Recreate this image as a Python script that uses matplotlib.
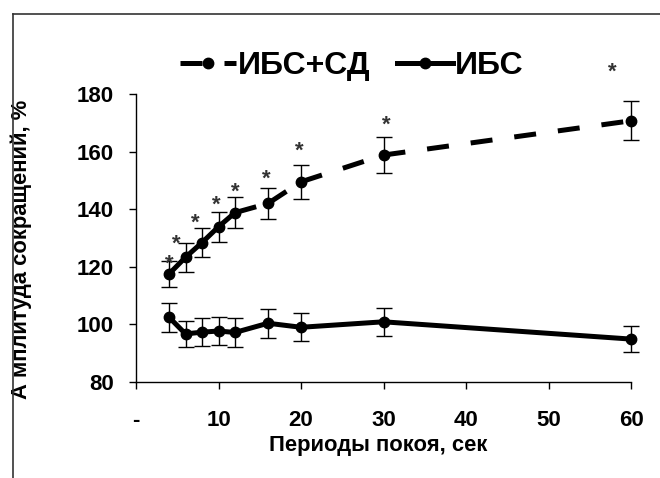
import numpy as np
import matplotlib
matplotlib.use('Agg')
import matplotlib.pyplot as plt
from matplotlib.lines import Line2D

plt.rcParams['font.family'] = ['Liberation Sans', 'DejaVu Sans']
plt.rcParams['font.weight'] = 'bold'

# периоды покоя, сек
x = [4, 6, 8, 10, 12, 16, 20, 30, 60]

# ИБС+СД (пунктир)
ibs_sd = [117.5, 123.3, 128.4, 133.9, 138.8, 142.0, 149.5, 158.8, 170.7]
ibs_sd_err = [4.5, 5.0, 4.9, 5.2, 5.4, 5.5, 5.8, 6.3, 6.7]

# ИБС (сплошная)
ibs = [102.5, 96.7, 97.3, 97.7, 97.2, 100.4, 99.0, 100.9, 94.9]
ibs_err = [5.0, 4.5, 4.9, 4.8, 5.0, 5.0, 4.8, 4.9, 4.6]

# звездочки (достоверность)
star_x = [4, 4.9, 7.2, 9.7, 12, 15.8, 19.8, 30.3, 57.7]
star_y = [123.5, 130.2, 137.4, 143.8, 148.4, 153.0, 162.5, 171.6, 190.0]

xticks = [0, 10, 20, 30, 40, 50, 60]
xticklabels = ['-', '10', '20', '30', '40', '50', '60']
yticks = [80, 100, 120, 140, 160, 180]

fig = plt.figure(figsize=(6.6, 4.78), dpi=100)
ax = fig.add_axes([136/660, 1-382/478, 495/660, 288/478])

lw = 3.6
dash = (4.4, 4.4)

# пунктир в Excel начинается заново на каждом отрезке
for i in range(len(x)-1):
    ax.plot(x[i:i+2], ibs_sd[i:i+2], color='black', lw=lw, dashes=dash,
            dash_capstyle='butt', solid_capstyle='round', clip_on=False)
ax.plot(x, ibs_sd, 'o', color='black', ms=7.5, clip_on=False)
ax.errorbar(x, ibs_sd, yerr=ibs_sd_err, fmt='none', ecolor='black',
            elinewidth=1, capsize=6, capthick=1, clip_on=False)

ax.plot(x, ibs, '-o', color='black', lw=lw, ms=7.5, clip_on=False,
        solid_joinstyle='round')
ax.errorbar(x, ibs, yerr=ibs_err, fmt='none', ecolor='black',
            elinewidth=1, capsize=6, capthick=1, clip_on=False)

for sx, sy in zip(star_x, star_y):
    ax.annotate('*', (sx, sy), xytext=(0, -9), textcoords='offset points',
                ha='center', va='baseline', fontsize=16, color='#333333',
                annotation_clip=False)

ax.set_xlim(0, 60)
ax.set_ylim(80, 180)
ax.set_xticks(xticks)
ax.set_xticklabels(xticklabels)
ax.set_yticks(yticks)
ax.tick_params(axis='both', direction='out', length=5, width=1,
               labelsize=16)
ax.tick_params(axis='x', pad=15)
ax.tick_params(axis='y', pad=11)
for lab in ax.get_xticklabels() + ax.get_yticklabels():
    lab.set_fontweight('bold')

ax.spines['top'].set_visible(False)
ax.spines['right'].set_visible(False)
ax.spines['left'].set_linewidth(1)
ax.spines['bottom'].set_linewidth(1)

ax.set_xlabel('Периоды покоя, сек', fontsize=15.8, fontweight='bold')
ax.set_ylabel('А мплитуда сокращений, %', fontsize=15.8, fontweight='bold')
ax.xaxis.set_label_coords(0.49, -0.185)
ax.yaxis.set_label_coords(-0.21, 0.462)

h1 = Line2D([], [], color='black', lw=lw, dashes=dash, dash_capstyle='butt',
            marker='o', ms=7.5)
h2 = Line2D([], [], color='black', lw=lw, marker='o', ms=7.5)
fig.legend([h1, h2], ['ИБС+СД', 'ИБС'], ncol=2, frameon=False,
           loc='center left', bbox_to_anchor=(180/660, 1-66/478),
           borderpad=0, borderaxespad=0, handlelength=1.75,
           handletextpad=0.05, columnspacing=0.85,
           prop={'size': 23, 'weight': 'bold'})

# рамка вокруг диаграммы
fig.add_artist(Line2D([13/660, 13/660], [0, 1-14/478], color='#333333', lw=1.2))
fig.add_artist(Line2D([13/660, 1], [1-14/478, 1-14/478], color='#333333', lw=1.2))

fig.savefig('out.png', dpi=100)
